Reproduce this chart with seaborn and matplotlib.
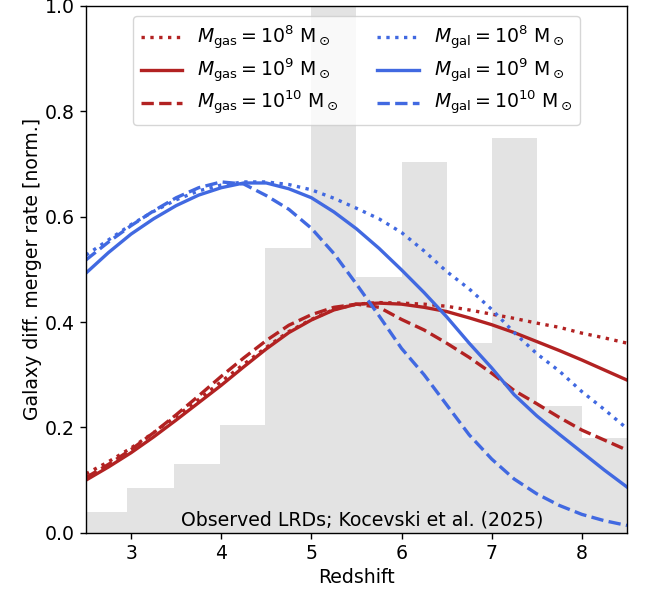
import numpy as np
import pandas as pd
import seaborn as sns
import matplotlib.pyplot as plt

# redshift grid the curves were read on
z = [2.5, 2.75, 3.0, 3.25, 3.5, 3.75, 4.0, 4.25, 4.5, 4.75, 5.0, 5.25, 5.5,
     5.75, 6.0, 6.25, 6.5, 6.75, 7.0, 7.25, 7.5, 7.75, 8.0, 8.25, 8.5]

# gas-mass curves (red)
gas_1e8 = [.112, .135, .161, .190, .221, .253, .287, .320, .352, .382, .405, .424, .434,
           .437, .436, .434, .430, .423, .415, .407, .398, .390, .379, .370, .360]
gas_1e9 = [.100, .125, .152, .182, .214, .247, .280, .315, .349, .380, .404, .423, .434,
           .436, .434, .428, .420, .408, .395, .380, .363, .346, .328, .309, .290]
gas_1e10 = [.105, .130, .158, .190, .224, .260, .297, .332, .365, .394, .414, .428, .434,
            .428, .405, .385, .360, .333, .303, .270, .245, .219, .195, .176, .157]

# galaxy-mass curves (blue)
gal_1e8 = [.527, .556, .585, .610, .632, .649, .660, .666, .666, .661, .651, .635, .616,
           .596, .570, .535, .496, .463, .424, .380, .340, .307, .268, .234, .198]
gal_1e9 = [.493, .532, .567, .596, .621, .641, .655, .664, .664, .653, .636, .609, .577,
           .540, .499, .456, .410, .360, .313, .262, .222, .187, .153, .119, .087]
gal_1e10 = [.518, .552, .583, .611, .636, .655, .666, .662, .640, .614, .578, .530, .472,
            .412, .350, .300, .243, .186, .140, .102, .074, .052, .035, .023, .014]

# observed LRD redshift distribution (normalised)
lrd_edges = [2.5, 2.95, 3.48, 3.99, 4.49, 5.0, 5.5, 6.0, 6.5, 7.0, 7.5, 8.0, 8.5]
lrd_heights = [.04, .085, .13, .205, .54, 1.0, .486, .704, .36, .75, .24, .18]

mass_labels = ['10^{8}', '10^{9}', '10^{10}']
styles = [':', '-', '--']

fs = 13.6
fig, ax = plt.subplots(figsize=(6.49, 5.94), dpi=100)
fig.subplots_adjust(left=0.1325, right=0.966, bottom=0.103, top=0.99)

centers = [(a + b) / 2 for a, b in zip(lrd_edges[:-1], lrd_edges[1:])]
sns.histplot(x=centers, weights=lrd_heights, bins=lrd_edges, element='step',
             fill=True, color='#e3e3e3', alpha=1, linewidth=0, ax=ax, zorder=0)

for vals, lab, ls in zip([gas_1e8, gas_1e9, gas_1e10], mass_labels, styles):
    sns.lineplot(x=z, y=vals, ax=ax, color='firebrick', linestyle=ls, lw=2.4,
                 label=r'$M_{\rm gas}=' + lab + r'$ M$_\odot$')
for vals, lab, ls in zip([gal_1e8, gal_1e9, gal_1e10], mass_labels, styles):
    sns.lineplot(x=z, y=vals, ax=ax, color='royalblue', linestyle=ls, lw=2.4,
                 label=r'$M_{\rm gal}=' + lab + r'$ M$_\odot$')

ax.text(0.51, 0.006, 'Observed LRDs; Kocevski et al. (2025)', transform=ax.transAxes,
        ha='center', va='bottom', fontsize=fs)

ax.set_xlim(2.5, 8.5)
ax.set_ylim(0, 1)
ax.set_xticks([3, 4, 5, 6, 7, 8])
ax.set_yticks([0, 0.2, 0.4, 0.6, 0.8, 1.0])
ax.tick_params(labelsize=fs, length=4.5, width=1.0)
for sp in ax.spines.values():
    sp.set_linewidth(1.0)
ax.set_xlabel('Redshift', fontsize=fs)
ax.set_ylabel('Galaxy diff. merger rate [norm.]', fontsize=fs, labelpad=2)
ax.legend(loc='upper center', ncol=2, fontsize=fs, handlelength=2.2,
          labelspacing=0.25, bbox_to_anchor=(0.5, 0.998))

plt.savefig('out.png')
